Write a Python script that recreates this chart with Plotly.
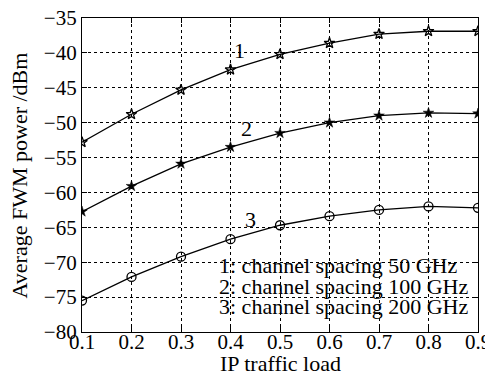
import plotly.graph_objects as go

x_load = [0.1, 0.2, 0.3, 0.4, 0.5, 0.6, 0.7, 0.8, 0.9]
fwm_50ghz = [-52.8, -48.8, -45.3, -42.4, -40.2, -38.6, -37.3, -36.9, -36.9]
fwm_100ghz = [-62.75, -59.1, -55.9, -53.5, -51.5, -50.0, -49.0, -48.6, -48.7]
fwm_200ghz = [-75.5, -72.1, -69.2, -66.7, -64.7, -63.4, -62.5, -62.0, -62.2]

x_ticks = [0.1, 0.2, 0.3, 0.4, 0.5, 0.6, 0.7, 0.8, 0.9]
y_ticks = [-80, -75, -70, -65, -60, -55, -50, -45, -40, -35]
y_tick_text = ["\u221280", "\u221275", "\u221270", "\u221265", "\u221260",
               "\u221255", "\u221250", "\u221245", "\u221240", "\u221235"]

curve_labels = ["1", "2", "3"]
curve_label_x = [0.419, 0.433, 0.44]
curve_label_y = [-39.6, -50.8, -63.9]

legend_lines = ["1: channel spacing 50 GHz",
                "2: channel spacing 100 GHz",
                "3: channel spacing 200 GHz"]

x_title = "IP traffic load"
y_title = "Average FWM power /dBm"

FONT = "Liberation Serif"
FS = 22
TFS = 21

fig = go.Figure()
fig.add_trace(go.Scatter(x=x_load, y=fwm_50ghz, mode="lines+markers",
                         line=dict(color="black", width=1.3),
                         marker=dict(symbol="star-open", size=8, color="black",
                                     line=dict(width=1.3, color="black"))))
fig.add_trace(go.Scatter(x=x_load, y=fwm_100ghz, mode="lines+markers",
                         line=dict(color="black", width=1.3),
                         marker=dict(symbol="star", size=8, color="black",
                                     line=dict(width=0.5, color="black"))))
fig.add_trace(go.Scatter(x=x_load, y=fwm_200ghz, mode="lines+markers",
                         line=dict(color="black", width=1.3),
                         marker=dict(symbol="circle-open", size=9, color="black",
                                     line=dict(width=1.3, color="black"))))

for t, xx, yy in zip(curve_labels, curve_label_x, curve_label_y):
    fig.add_annotation(x=xx, y=yy, text=t, showarrow=False,
                       font=dict(family=FONT, size=FS, color="black"))

legend_y = [0.213, 0.146, 0.080]
for t, yy in zip(legend_lines, legend_y):
    fig.add_annotation(xref="paper", yref="paper", x=0.341, y=yy,
                       text=t, showarrow=False, xanchor="left", yanchor="middle",
                       font=dict(family=FONT, size=FS, color="black"))

fig.add_annotation(xref="paper", yref="paper", x=0.5, y=-0.100, text=x_title,
                   showarrow=False, xanchor="center", yanchor="middle",
                   font=dict(family=FONT, size=FS, color="black"))
fig.add_annotation(xref="paper", yref="paper", x=-0.158, y=0.5, text=y_title,
                   showarrow=False, xanchor="center", yanchor="middle", textangle=-90,
                   font=dict(family=FONT, size=FS, color="black"))

axis_common = dict(showline=True, linecolor="black", linewidth=1.2, mirror="ticks",
                   ticks="inside", ticklen=5, tickcolor="black",
                   showgrid=True, gridcolor="black", griddash="dot", gridwidth=1,
                   zeroline=False, automargin=False, ticklabeloverflow="allow",
                   tickfont=dict(family=FONT, size=TFS, color="black"))

fig.update_xaxes(range=[0.1, 0.9], tickvals=x_ticks, ticklabelstandoff=-9,
                 ticktext=[f"{v:.1f}" for v in x_ticks], **axis_common)
fig.update_yaxes(range=[-80, -35], tickvals=y_ticks, ticktext=y_tick_text,
                 ticklabelstandoff=0, **axis_common)

# page body has an 8px default margin, so the figure is 8px smaller
fig.update_layout(width=485, height=367, showlegend=False,
                  plot_bgcolor="white", paper_bgcolor="white",
                  margin=dict(l=74, r=15, t=10, b=43))

fig.write_html("out.html")
